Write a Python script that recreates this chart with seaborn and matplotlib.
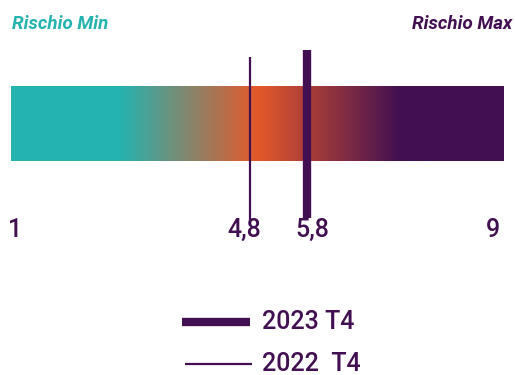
import numpy as np
import pandas as pd
import matplotlib
matplotlib.use("Agg")
import matplotlib.pyplot as plt
from matplotlib.colors import LinearSegmentedColormap
import seaborn as sns

# ---- data ----
scale_min, scale_max = 1, 9
scale_labels = ["1", "9"]
series = ["2023 T4", "2022  T4"]
values = [5.8, 4.8]
value_labels = ["5,8", "4,8"]
title_min = "Rischio Min"
title_max = "Rischio Max"

# ---- style ----
TEAL = "#25B3B0"
ORANGE = "#E5592A"
PURPLE = "#421052"
W, H = 515, 375

sns.set_theme(style="white")
plt.rcParams["font.family"] = ["Roboto", "DejaVu Sans"]

fig = plt.figure(figsize=(W / 100, H / 100), dpi=100)
ax = fig.add_axes([0, 0, 1, 1])

# gradient bar
bar_x0, bar_x1 = 0.607, 9.24
cmap = LinearSegmentedColormap.from_list(
    "risk", [(0, TEAL), (0.22, TEAL), (0.50, ORANGE), (0.79, PURPLE), (1, PURPLE)])
grad = np.linspace(0, 1, 512).reshape(1, -1)
ax.imshow(grad, cmap=cmap, aspect="auto", extent=(bar_x0, bar_x1, 161, 86),
          interpolation="bilinear", zorder=1)

# marker lines
widths = [6.0, 1.6]
spans = [(50, 218), (57, 225)]
for v, lw, (y0, y1) in zip(values, widths, spans):
    df = pd.DataFrame({"value": [v, v], "y": [y0, y1]})
    sns.lineplot(data=df, x="value", y="y", orient="y", sort=False,
                 estimator=None, color=PURPLE, lw=lw, ax=ax, zorder=3,
                 solid_capstyle="butt")
ax.set_xlim(0.414, 9.449)
ax.set_ylim(H, 0)
ax.axis("off")

# value labels
lab_kw = dict(color=PURPLE, fontsize=18, fontweight="medium", va="center")
ax.text(bar_x0 - 0.05, 230, scale_labels[0], ha="left", **lab_kw)
ax.text(bar_x1 - 0.05, 230, scale_labels[1], ha="right", **lab_kw)
ax.text(values[1] - 0.1, 230, value_labels[1], ha="center", **lab_kw)
ax.text(values[0] + 0.1, 230, value_labels[0], ha="center", **lab_kw)

# overlay in pixel coordinates for titles and legend
ov = fig.add_axes([0, 0, 1, 1])
ov.set_xlim(0, W)
ov.set_ylim(H, 0)
ov.axis("off")
ov.patch.set_alpha(0)

ov.text(12, 24, title_min, color=TEAL, fontsize=13.5, fontweight="bold",
        fontstyle="italic", ha="left", va="center")
ov.text(512, 24, title_max, color=PURPLE, fontsize=13.5, fontweight="bold",
        fontstyle="italic", ha="right", va="center")

leg_y = [322, 364]
leg_x = [(182, 250), (185, 252)]
for (x0, x1), y, lw, name in zip(leg_x, leg_y, widths, series):
    ov.plot([x0, x1], [y, y], color=PURPLE, lw=lw, solid_capstyle="butt")
    ov.text(262, y, name, color=PURPLE, fontsize=18, fontweight="medium",
            ha="left", va="center")

fig.savefig("out.png", dpi=100)
